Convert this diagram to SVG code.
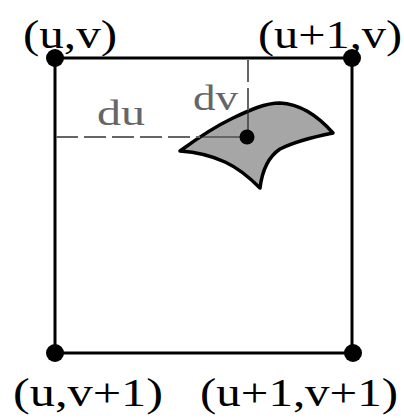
<svg xmlns="http://www.w3.org/2000/svg" width="404" height="419" viewBox="0 0 404 419">
<style>
.lbl{font-family:"Liberation Serif","DejaVu Serif",serif;font-size:40px;fill:#000}
.g{font-family:"Liberation Serif","DejaVu Serif",serif;font-size:36px;fill:#666}
.edge{stroke:#000;stroke-width:3;fill:none}
.dash{stroke:#666;stroke-width:2;fill:none;stroke-dasharray:22 6}
.thin{stroke:#222;stroke-width:1.2;fill:none}
.pt{fill:#000}
</style>
<rect width="404" height="419" fill="#fff"/>
<g id="connectors">
<line class="edge" x1="55" y1="58" x2="352" y2="58"/>
<line class="edge" x1="352" y1="58" x2="352" y2="353"/>
<line class="edge" x1="352" y1="353" x2="55" y2="353"/>
<line class="edge" x1="55" y1="353" x2="55" y2="58"/>
</g>
<g id="patch">
<path d="M180,151 C195,140 212,128 233,118 C250,110 265,103 280,103 C300,104 318,116 333,133 C318,136 298,140 280,149 C268,157 262,172 260,188 C250,178 238,168 225,162 C210,155 195,152 180,151 Z" fill="#a6a6a6" stroke="#000" stroke-width="3.5" stroke-linejoin="round"/>
</g>
<g id="guides">
<line class="dash" x1="56" y1="137" x2="200" y2="137"/>
<line class="thin" x1="200" y1="137" x2="247" y2="137"/>
<line class="dash" x1="248" y1="60" x2="248" y2="110" stroke-dasharray="4 3 20 3"/>
<line class="thin" x1="248" y1="110" x2="248" y2="137"/>
<text class="g" x="97" y="125" textLength="48" lengthAdjust="spacingAndGlyphs">du</text>
<text class="g" x="193" y="110" textLength="45" lengthAdjust="spacingAndGlyphs">dv</text>
</g>
<g id="sample-point"><circle class="pt" cx="247" cy="137" r="7.5"/></g>
<g id="n-uv"><circle class="pt" cx="55" cy="58" r="9"/><text class="lbl" x="23" y="48" textLength="94" lengthAdjust="spacingAndGlyphs">(u,v)</text></g>
<g id="n-u1v"><circle class="pt" cx="352" cy="58" r="9"/><text class="lbl" x="258" y="48" textLength="144" lengthAdjust="spacingAndGlyphs">(u+1,v)</text></g>
<g id="n-uv1"><circle class="pt" cx="55" cy="353" r="9"/><text class="lbl" x="13" y="406" textLength="150" lengthAdjust="spacingAndGlyphs">(u,v+1)</text></g>
<g id="n-u1v1"><circle class="pt" cx="353" cy="353" r="9"/><text class="lbl" x="200" y="406" textLength="198" lengthAdjust="spacingAndGlyphs">(u+1,v+1)</text></g>
</svg>
